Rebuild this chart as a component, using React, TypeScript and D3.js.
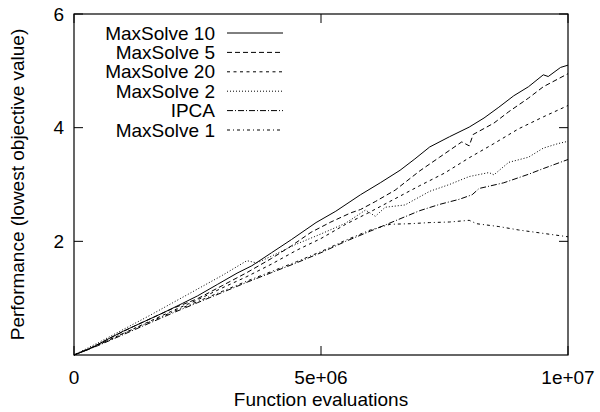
import React, { useEffect, useRef } from "react";
import * as d3 from "d3";

// evaluations in millions, value = lowest objective value
const maxSolve10 = [
  [0, 0], [0.3, 0.1], [0.6, 0.24], [1, 0.42], [1.4, 0.58], [1.8, 0.74], [2.2, 0.91],
  [2.5, 1.04], [2.9, 1.24], [3.3, 1.44], [3.6, 1.57], [4, 1.8], [4.4, 2.03], [4.9, 2.33],
  [5.3, 2.53], [5.8, 2.82], [6.2, 3.03], [6.6, 3.25], [6.9, 3.45], [7.2, 3.66], [7.6, 3.84],
  [8.0, 4.01], [8.3, 4.17], [8.6, 4.36], [8.9, 4.56], [9.2, 4.72], [9.5, 4.93], [9.6, 4.9],
  [9.85, 5.06], [10, 5.1],
];
const maxSolve5 = [
  [0, 0], [0.4, 0.15], [0.8, 0.33], [1.2, 0.5], [1.6, 0.66], [2, 0.82], [2.5, 0.99],
  [3, 1.22], [3.5, 1.45], [4, 1.7], [4.4, 1.92], [4.8, 2.16], [5.2, 2.34], [5.6, 2.5],
  [5.8, 2.56], [6.1, 2.7], [6.5, 2.9], [7, 3.24], [7.4, 3.48], [7.85, 3.75], [8.0, 3.68],
  [8.08, 3.88], [8.5, 4.08], [8.8, 4.28], [9.2, 4.52], [9.5, 4.72], [10, 4.95],
];
const maxSolve20 = [
  [0, 0], [0.5, 0.18], [1, 0.38], [1.5, 0.58], [2, 0.78], [2.5, 0.97], [3, 1.18],
  [3.5, 1.38], [4, 1.6], [4.5, 1.84], [5, 2.05], [5.5, 2.3], [6, 2.52], [6.5, 2.75],
  [7, 2.98], [7.5, 3.2], [8, 3.47], [8.5, 3.72], [9, 3.98], [9.5, 4.19], [10, 4.39],
];
const maxSolve2 = [
  [0, 0], [0.5, 0.22], [1, 0.45], [1.5, 0.68], [2, 0.92], [2.5, 1.16], [3, 1.4],
  [3.5, 1.66], [3.7, 1.62], [4, 1.74], [4.5, 1.95], [5, 2.13], [5.5, 2.32], [5.9, 2.55],
  [6.1, 2.44], [6.3, 2.6], [6.7, 2.64], [7.2, 2.88], [7.6, 3.0], [8.0, 3.14], [8.4, 3.21],
  [8.5, 3.17], [8.8, 3.39], [9.2, 3.48], [9.5, 3.64], [9.8, 3.72], [10, 3.76],
];
const ipca = [
  [0, 0], [0.5, 0.17], [1, 0.36], [1.5, 0.55], [2, 0.74], [2.5, 0.92], [3, 1.1],
  [3.5, 1.28], [4, 1.45], [4.5, 1.62], [5, 1.8], [5.5, 2.0], [6, 2.18], [6.5, 2.36],
  [7, 2.54], [7.4, 2.65], [7.8, 2.74], [8.06, 2.82], [8.2, 2.93], [8.7, 3.03], [9.2, 3.18],
  [9.5, 3.28], [10, 3.44],
];
const maxSolve1 = [
  [0, 0], [0.5, 0.18], [1, 0.38], [1.5, 0.57], [2, 0.76], [2.5, 0.94], [3, 1.12],
  [3.5, 1.3], [4, 1.47], [4.5, 1.64], [5, 1.82], [5.5, 2.02], [6, 2.2], [6.4, 2.3],
  [6.8, 2.31], [7.2, 2.33], [7.6, 2.34], [8.0, 2.37], [8.15, 2.31], [8.6, 2.26], [9, 2.2],
  [9.5, 2.14], [10, 2.08],
];

const seriesNames = ["MaxSolve 10", "MaxSolve 5", "MaxSolve 20", "MaxSolve 2", "IPCA", "MaxSolve 1"];
const seriesData = [maxSolve10, maxSolve5, maxSolve20, maxSolve2, ipca, maxSolve1];
const dashes = ["none", "5,3", "3,3.5", "1,2", "6,2,1,2", "3,3,1,3"];

const xTicks = [0, 5e6, 1e7];
const xTickLabels = ["0", "5e+06", "1e+07"];
const yTicks = [2, 4, 6];

const W = 600;
const H = 412;
const FONT = "'Liberation Sans', Arial, Helvetica, sans-serif";

export default function App() {
  const ref = useRef<SVGSVGElement>(null);

  useEffect(() => {
    document.body.style.margin = "0";
    const svg = d3.select(ref.current);
    svg.selectAll("*").remove();

    const x = d3.scaleLinear().domain([0, 1e7]).range([74, 568]);
    const y = d3.scaleLinear().domain([0, 6]).range([355, 14]);
    const tick = 9;

    const line = d3
      .line<number[]>()
      .x(d => x(d[0] * 1e6))
      .y(d => y(d[1]));

    const g = svg.append("g");

    // lines
    seriesData.forEach((s, i) => {
      g.append("path")
        .attr("d", line(s))
        .attr("fill", "none")
        .attr("stroke", "#000")
        .attr("stroke-width", 1)
        .attr("stroke-dasharray", dashes[i]);
    });

    // ticks (mirrored)
    xTicks.forEach(t => {
      g.append("line").attr("x1", x(t)).attr("x2", x(t))
        .attr("y1", y(0)).attr("y2", y(0) - tick).attr("stroke", "#000");
      g.append("line").attr("x1", x(t)).attr("x2", x(t))
        .attr("y1", y(6)).attr("y2", y(6) + tick).attr("stroke", "#000");
    });
    yTicks.forEach(t => {
      g.append("line").attr("x1", x(0)).attr("x2", x(0) + tick)
        .attr("y1", y(t)).attr("y2", y(t)).attr("stroke", "#000");
      g.append("line").attr("x1", x(1e7)).attr("x2", x(1e7) - tick)
        .attr("y1", y(t)).attr("y2", y(t)).attr("stroke", "#000");
    });

    // frame
    g.append("rect")
      .attr("x", x(0)).attr("y", y(6))
      .attr("width", x(1e7) - x(0)).attr("height", y(0) - y(6))
      .attr("fill", "none").attr("stroke", "#000").attr("stroke-width", 1.2);

    // tick labels
    const txt = g.append("g").attr("font-family", FONT).attr("font-size", 19).attr("fill", "#000");
    xTicks.forEach((t, i) => {
      txt.append("text").attr("x", x(t)).attr("y", 384)
        .attr("text-anchor", "middle").text(xTickLabels[i]);
    });
    yTicks.forEach(t => {
      txt.append("text").attr("x", 64).attr("y", y(t)).attr("dy", "0.35em")
        .attr("text-anchor", "end").text(String(t));
    });

    // axis titles
    txt.append("text").attr("x", x(5e6)).attr("y", 406)
      .attr("text-anchor", "middle").text("Function evaluations");
    txt.append("text")
      .attr("transform", `translate(24,${(y(0) + y(6)) / 2}) rotate(-90)`)
      .attr("text-anchor", "middle").text("Performance (lowest objective value)");

    // legend
    seriesNames.forEach((name, i) => {
      const ly = 33 + i * 19.4;
      txt.append("text").attr("x", 215).attr("y", ly).attr("dy", "0.35em")
        .attr("text-anchor", "end").text(name);
      g.append("line").attr("x1", 227).attr("x2", 283)
        .attr("y1", ly).attr("y2", ly)
        .attr("stroke", "#000").attr("stroke-width", 1)
        .attr("stroke-dasharray", dashes[i]);
    });
  }, []);

  return <svg ref={ref} width={W} height={H} style={{ display: "block", background: "#fff" }} />;
}
